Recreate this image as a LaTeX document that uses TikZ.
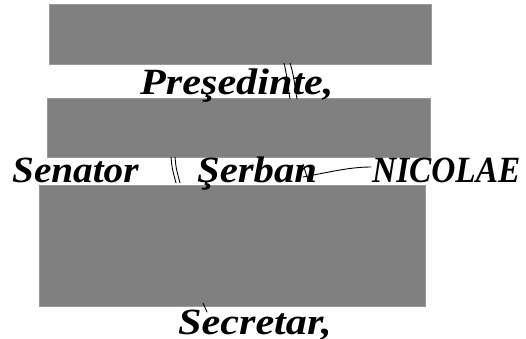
\documentclass[tikz,border=0pt]{standalone}
\usepackage{fontspec}
\setmainfont{Liberation Serif}
\tikzset{
  block/.style={fill=gray, draw=gray!80},
  word/.style={anchor=base west, inner sep=0pt, font=\fontsize{37}{37}\selectfont\bfseries\itshape},
  scribble/.style={black, line width=0.9pt, line cap=round}
}
\begin{document}
\begin{tikzpicture}[x=1pt,y=-1pt]
\useasboundingbox (0,0) rectangle (526,338);
\fill[white] (0,0) rectangle (526,338);
% gray blocks
\node[block, minimum width=382pt, minimum height=60pt, inner sep=0pt, anchor=north west] (b1) at (49,4) {};
\node[block, minimum width=383pt, minimum height=59pt, inner sep=0pt, anchor=north west] (b2) at (47,98) {};
\node[block, minimum width=386pt, minimum height=121pt, inner sep=0pt, anchor=north west] (b3) at (39,185) {};
% texts
\node[word] (pres) at (140,94) {\scalebox{1.14}[1]{Preşedinte,}};
\node[word] (sen) at (12,182) {\scalebox{1.06}[1]{Senator}};
\node[word] (ser) at (197,182) {\scalebox{1.10}[1]{Şerban}};
\node[word] (nic) at (372,182) {\scalebox{0.90}[1]{NICOLAE}};
\node[word] (sec) at (178,334) {\scalebox{1.14}[1]{Secretar,}};
% signature strokes
\coordinate (p1a) at (284,63);
\coordinate (p1b) at (290,99);
\coordinate (p2a) at (290,63);
\coordinate (p2b) at (297,99);
\draw[scribble] (p1a) .. controls (287,75) and (288,88) .. (p1b);
\draw[scribble] (p2a) .. controls (294,75) and (295,88) .. (p2b);
\coordinate (s1a) at (171,157);
\coordinate (s1b) at (176,183);
\coordinate (s2a) at (175,157);
\coordinate (s2b) at (180,183);
\draw[scribble] (s1a) .. controls (172,168) .. (s1b);
\draw[scribble] (s2a) .. controls (176,168) .. (s2b);
\coordinate (l1) at (303,164);
\coordinate (l2) at (308,180);
\coordinate (l3) at (303,177);
\coordinate (l4) at (371,167);
\draw[scribble] (l1) -- (l2);
\draw[scribble] (l3) .. controls (330,172) and (350,167) .. (l4);
\coordinate (c1) at (203,303);
\coordinate (c2) at (207,312);
\draw[scribble] (c1) -- (c2);
\end{tikzpicture}
\end{document}
